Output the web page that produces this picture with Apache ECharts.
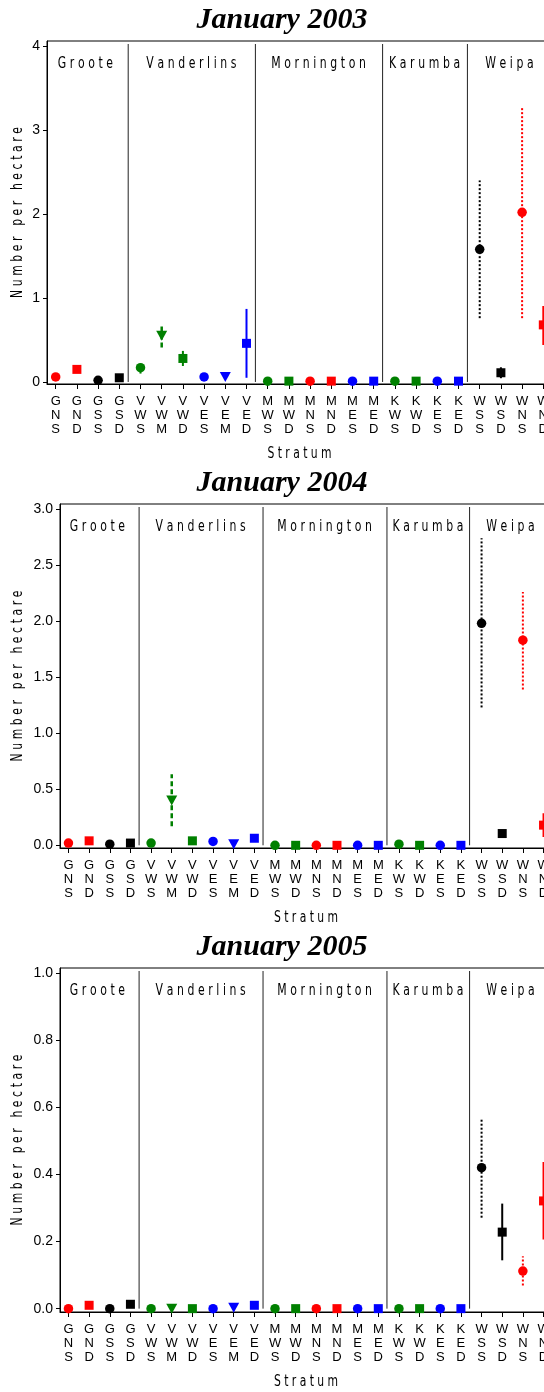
<!DOCTYPE html>
<html><head><meta charset="utf-8">
<script src="https://cdn.jsdelivr.net/npm/echarts@6/dist/echarts.min.js"></script>
<style>html,body{margin:0;padding:0;background:#fff}#c{width:544px;height:1392px}</style>
</head><body><div id="c"></div>
<script>
// ---------------- data ----------------
const categories = ['GNS','GND','GSS','GSD','VWS','VWM','VWD','VES','VEM','VED',
  'MWS','MWD','MNS','MND','MES','MED','KWS','KWD','KES','KED','WSS','WSD','WNS','WND'];
const groupNames = {G:'Groote', V:'Vanderlins', M:'Mornington', K:'Karumba', W:'Weipa'};
const titles = ['January 2003','January 2004','January 2005'];
const yAxisTitle = 'Number per hectare';
const xAxisTitle = 'Stratum';

const mean2003  = [0.06,0.15,0.02,0.05,0.17,0.55,0.28,0.06,0.06,0.46,0.01,0.01,0.01,0.01,0.01,0.01,0.01,0.01,0.01,0.01,1.58,0.11,2.02,0.68];
const lower2003 = [null,null,null,null,0.10,0.41,0.19,null,null,0.05,null,null,null,null,null,null,null,null,null,null,0.76,0.045,0.76,0.44];
const upper2003 = [null,null,null,null,0.24,0.69,0.37,null,null,0.87,null,null,null,null,null,null,null,null,null,null,2.40,0.175,3.27,0.905];

const mean2004  = [0.02,0.04,0.01,0.02,0.02,0.40,0.04,0.035,0.01,0.063,0,0,0,0,0,0,0.01,0,0,0,1.98,0.105,1.83,0.18];
const lower2004 = [null,null,null,null,null,0.17,null,null,null,null,null,null,null,null,null,null,null,null,null,null,1.23,null,1.39,0.075];
const upper2004 = [null,null,null,null,null,0.635,null,null,null,null,null,null,null,null,null,null,null,null,null,null,2.74,null,2.26,0.285];

const mean2005  = [0,0.01,0,0.013,0,0,0,0,0.003,0.01,0,0,0,0,0,0,0,0,0,0,0.42,0.228,0.112,0.321];
const lower2005 = [null,null,null,null,null,null,null,null,null,null,null,null,null,null,null,null,null,null,null,null,0.271,0.144,0.069,0.206];
const upper2005 = [null,null,null,null,null,null,null,null,null,null,null,null,null,null,null,null,null,null,null,null,0.569,0.313,0.156,0.437];

const yTicks2003 = [0,1,2,3,4];
const yTicks2004 = [0,0.5,1,1.5,2,2.5,3];
const yTicks2005 = [0,0.2,0.4,0.6,0.8,1];

// ---------------- layout / style ----------------
const panels = [
  {mean:mean2003, lo:lower2003, hi:upper2003, ticks:yTicks2003, dec:0, grid:{left:47, top:41, width:505, height:343}, ymin:-0.024, ymax:4.06},
  {mean:mean2004, lo:lower2004, hi:upper2004, ticks:yTicks2004, dec:1, grid:{left:60, top:504, width:492, height:344}, ymin:-0.024, ymax:3.045},
  {mean:mean2005, lo:lower2005, hi:upper2005, ticks:yTicks2005, dec:1, grid:{left:60, top:968, width:492, height:344}, ymin:-0.010, ymax:1.015}
];
const XMIN = -0.41, XMAX = 23.41;
const colorBySub = {W:'#008000', E:'#0000ff', N:'#ff0000', S:'#000000'};
function styleOf(code){
  const color = colorBySub[code[1]];
  const t = code[2];
  if (t === 'S') return {color, symbol:'circle', size:9.5, rot:0, dash:[2,2], lw:2};
  if (t === 'D') return {color, symbol:'rect', size:9, rot:0, dash:null, lw:2};
  return {color, symbol:'triangle', size:[11,10], rot:180, dash:[5,3], lw:2.5};
}

// groups derived from category first letters
const groups = [];
categories.forEach((c,i)=>{
  const g = groups.length ? groups[groups.length-1] : null;
  if (!g || g.key !== c[0]) groups.push({key:c[0], first:i, last:i});
  else g.last = i;
});

// spaced thin lettering
const THIN_FONT = '"DejaVu Sans"';
const mctx = document.createElement('canvas').getContext('2d');
function spacedChildren(text, cx, cy, size, sx, gap){
  mctx.font = size + 'px ' + THIN_FONT;
  const ws = text.split('').map(ch => mctx.measureText(ch).width * sx);
  const total = ws.reduce((a,b)=>a+b,0) + gap*(ws.length-1);
  let x = cx - total/2;
  const out = [];
  text.split('').forEach((ch,k)=>{
    if (ch !== ' ') out.push({type:'text', x:x+ws[k]/2, y:cy, scaleX:sx,
      style:{text:ch, font:size+'px '+THIN_FONT, fill:'#000', align:'center', verticalAlign:'middle'}});
    x += ws[k] + gap;
  });
  return out;
}

const option = {animation:false, grid:[], xAxis:[], yAxis:[], series:[], graphic:[]};

panels.forEach((p, k)=>{
  option.grid.push(Object.assign({show:true, borderColor:'#000', borderWidth:1, containLabel:false, outerBoundsMode:'none'}, p.grid));
  option.xAxis.push({type:'value', gridIndex:k, min:XMIN, max:XMAX, splitLine:{show:false},
    axisLine:{show:true, onZero:false, lineStyle:{color:'#000', width:1}},
    axisTick:{show:true, length:5, lineStyle:{color:'#000'}, customValues:categories.map((c,i)=>i)},
    axisLabel:{customValues:categories.map((c,i)=>i), margin:10, lineHeight:14,
      fontFamily:'"Liberation Sans", Arial', fontSize:13, color:'#000',
      formatter:v => categories[Math.round(v)].split('').join('\n')}});
  option.yAxis.push({type:'value', gridIndex:k, min:p.ymin, max:p.ymax, splitLine:{show:false},
    axisLine:{show:true, onZero:false, lineStyle:{color:'#000', width:1}},
    axisTick:{show:true, length:4, lineStyle:{color:'#000'}, customValues:p.ticks},
    axisLabel:{customValues:p.ticks, margin:7, fontFamily:'"Liberation Sans", Arial', fontSize:14, color:'#000',
      formatter:v => Number(v).toFixed(p.dec)}});

  // separators + group labels
  option.series.push({type:'custom', xAxisIndex:k, yAxisIndex:k, z:1, silent:true,
    data: groups.map((g,gi)=>[ (g.first+g.last)/2 - 0.1, gi < groups.length-1 ? g.last + 0.42 : -99 ]),
    renderItem:(params, api)=>{
      const cs = params.coordSys;
      const g = groups[params.dataIndex];
      const children = [];
      const sep = api.value(1);
      if (sep > -50){
        const b = api.coord([sep, 0]);
        children.push({type:'line', shape:{x1:b[0], y1:b[1], x2:b[0], y2:cs.y+3}, style:{stroke:'#222', lineWidth:1}});
      }
      const c = api.coord([api.value(0), 0]);
      spacedChildren(groupNames[g.key], c[0], cs.y+23, 16, 0.68, 3.6).forEach(e=>children.push(e));
      return {type:'group', children};
    }});

  // error bars
  const eb = [];
  categories.forEach((c,i)=>{ if (p.lo[i] != null && p.hi[i] != null) eb.push([i, p.lo[i], p.hi[i]]); });
  option.series.push({type:'custom', xAxisIndex:k, yAxisIndex:k, z:2, silent:true, data:eb,
    renderItem:(params, api)=>{
      const i = api.value(0);
      const a = api.coord([i, api.value(1)]), b = api.coord([i, api.value(2)]);
      const st = styleOf(categories[i]);
      return {type:'line', shape:{x1:a[0], y1:a[1], x2:b[0], y2:b[1]},
        style:{stroke:st.color, lineWidth:st.lw, lineDash:st.dash, lineCap:'butt'}};
    }});

  // markers
  option.series.push({type:'scatter', xAxisIndex:k, yAxisIndex:k, z:3, silent:true,
    data: categories.map((c,i)=>{
      const st = styleOf(c);
      return {value:[i, p.mean[i]], symbol:st.symbol, symbolSize:st.size, symbolRotate:st.rot, itemStyle:{color:st.color, opacity:1}};
    })});

  // titles and axis names
  const g = p.grid;
  option.graphic.push({type:'text', x:282, y:g.top-21, style:{text:titles[k], font:'bold italic 30px "Liberation Serif", "Times New Roman", serif', fill:'#000', align:'center', verticalAlign:'middle'}});
  option.graphic.push({type:'group', x:18, y:g.top + g.height/2, rotation:Math.PI/2, children:spacedChildren(yAxisTitle, 0, 0, 15, 0.72, 3.6)});
  option.graphic.push({type:'group', x:g.left + g.width/2, y:g.top + g.height + 70, children:spacedChildren(xAxisTitle, 0, 0, 15, 0.72, 3.4)});
});

const chart = echarts.init(document.getElementById('c'), null, {renderer:'canvas'});
chart.setOption(option);
</script>
</body></html>
